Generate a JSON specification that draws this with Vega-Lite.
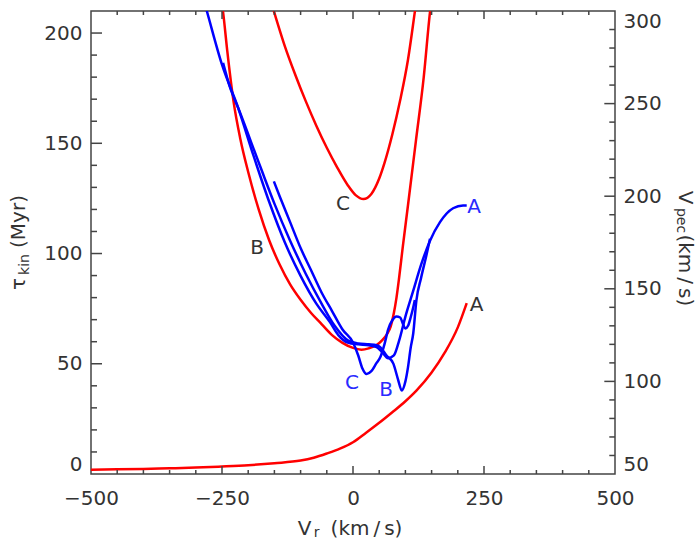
{
  "$schema": "https://vega.github.io/schema/vega-lite/v6.json",
  "width": 524,
  "height": 463,
  "autosize": "none",
  "padding": {"left": 91, "top": 11, "right": 85, "bottom": 65},
  "background": "white",
  "config": {
    "view": {"stroke": "#444", "strokeWidth": 1.5},
    "axis": {
      "domain": false, "ticks": false, "grid": false,
      "labelFont": "DejaVu Sans", "labelFontSize": 20, "labelColor": "#333",
      "titleFont": "DejaVu Sans", "titleFontSize": 20, "titleColor": "#333", "titleFontWeight": "normal"
    }
  },
  "datasets": {
    "red": [
      {"curve": "A", "v": -500, "tau": 1.9}, {"curve": "A", "v": -450, "tau": 2.1}, {"curve": "A", "v": -400, "tau": 2.3},
      {"curve": "A", "v": -350, "tau": 2.6}, {"curve": "A", "v": -300, "tau": 2.9}, {"curve": "A", "v": -250, "tau": 3.4},
      {"curve": "A", "v": -200, "tau": 4.0}, {"curve": "A", "v": -150, "tau": 4.9}, {"curve": "A", "v": -100, "tau": 6.1},
      {"curve": "A", "v": -75, "tau": 7.4}, {"curve": "A", "v": -50, "tau": 9.3}, {"curve": "A", "v": -25, "tau": 11.5},
      {"curve": "A", "v": 0, "tau": 14.4}, {"curve": "A", "v": 25, "tau": 18.7}, {"curve": "A", "v": 50, "tau": 23.2},
      {"curve": "A", "v": 75, "tau": 28}, {"curve": "A", "v": 100, "tau": 33}, {"curve": "A", "v": 121, "tau": 37.8},
      {"curve": "A", "v": 150, "tau": 46}, {"curve": "A", "v": 175, "tau": 55}, {"curve": "A", "v": 200, "tau": 66.5},
      {"curve": "A", "v": 217, "tau": 77.5},
      {"curve": "B", "v": -252, "tau": 216}, {"curve": "B", "v": -248, "tau": 209.6}, {"curve": "B", "v": -240, "tau": 192},
      {"curve": "B", "v": -228, "tau": 169}, {"curve": "B", "v": -215, "tau": 152}, {"curve": "B", "v": -200, "tau": 137},
      {"curve": "B", "v": -180, "tau": 120}, {"curve": "B", "v": -160, "tau": 106}, {"curve": "B", "v": -140, "tau": 95},
      {"curve": "B", "v": -120, "tau": 86}, {"curve": "B", "v": -100, "tau": 79}, {"curve": "B", "v": -80, "tau": 73},
      {"curve": "B", "v": -60, "tau": 68}, {"curve": "B", "v": -40, "tau": 63}, {"curve": "B", "v": -20, "tau": 59.5},
      {"curve": "B", "v": 0, "tau": 57.2}, {"curve": "B", "v": 16, "tau": 56.4}, {"curve": "B", "v": 30, "tau": 57},
      {"curve": "B", "v": 45, "tau": 58.5}, {"curve": "B", "v": 55, "tau": 60.5}, {"curve": "B", "v": 65, "tau": 63.5},
      {"curve": "B", "v": 72, "tau": 67}, {"curve": "B", "v": 78, "tau": 73}, {"curve": "B", "v": 83, "tau": 80},
      {"curve": "B", "v": 88, "tau": 89}, {"curve": "B", "v": 95, "tau": 103}, {"curve": "B", "v": 105, "tau": 122},
      {"curve": "B", "v": 120, "tau": 151}, {"curve": "B", "v": 135, "tau": 180}, {"curve": "B", "v": 147, "tau": 209.6},
      {"curve": "B", "v": 150, "tau": 215.5},
      {"curve": "C", "v": -155, "tau": 213}, {"curve": "C", "v": -150.6, "tau": 209.6}, {"curve": "C", "v": -130, "tau": 194},
      {"curve": "C", "v": -110, "tau": 181}, {"curve": "C", "v": -90, "tau": 169}, {"curve": "C", "v": -70, "tau": 158},
      {"curve": "C", "v": -50, "tau": 148}, {"curve": "C", "v": -30, "tau": 139}, {"curve": "C", "v": -10, "tau": 131},
      {"curve": "C", "v": 5, "tau": 126.5}, {"curve": "C", "v": 20, "tau": 124.7}, {"curve": "C", "v": 35, "tau": 127},
      {"curve": "C", "v": 50, "tau": 134}, {"curve": "C", "v": 60, "tau": 141}, {"curve": "C", "v": 75, "tau": 154},
      {"curve": "C", "v": 90, "tau": 169.5}, {"curve": "C", "v": 105, "tau": 188}, {"curve": "C", "v": 118, "tau": 209.6},
      {"curve": "C", "v": 120, "tau": 213}
    ],
    "blue": [
      {"curve": "A", "v": -282, "vpec": 303}, {"curve": "A", "v": -279, "vpec": 300}, {"curve": "A", "v": -250, "vpec": 271},
      {"curve": "A", "v": -219, "vpec": 247.6}, {"curve": "A", "v": -190, "vpec": 222}, {"curve": "A", "v": -160, "vpec": 197},
      {"curve": "A", "v": -130, "vpec": 175}, {"curve": "A", "v": -100, "vpec": 157}, {"curve": "A", "v": -70, "vpec": 142},
      {"curve": "A", "v": -44, "vpec": 132}, {"curve": "A", "v": -28, "vpec": 125}, {"curve": "A", "v": -10, "vpec": 121},
      {"curve": "A", "v": 10, "vpec": 120}, {"curve": "A", "v": 30, "vpec": 119.5}, {"curve": "A", "v": 45, "vpec": 118.5},
      {"curve": "A", "v": 55, "vpec": 116}, {"curve": "A", "v": 67, "vpec": 112.5}, {"curve": "A", "v": 78, "vpec": 114},
      {"curve": "A", "v": 88, "vpec": 122}, {"curve": "A", "v": 100, "vpec": 135}, {"curve": "A", "v": 115, "vpec": 149},
      {"curve": "A", "v": 130, "vpec": 163}, {"curve": "A", "v": 147, "vpec": 176}, {"curve": "A", "v": 166, "vpec": 186},
      {"curve": "A", "v": 191, "vpec": 193.5}, {"curve": "A", "v": 210, "vpec": 195}, {"curve": "A", "v": 217, "vpec": 195},
      {"curve": "B", "v": -248, "vpec": 272}, {"curve": "B", "v": -235, "vpec": 259}, {"curve": "B", "v": -219, "vpec": 247.6},
      {"curve": "B", "v": -177, "vpec": 216}, {"curve": "B", "v": -150, "vpec": 196}, {"curve": "B", "v": -120, "vpec": 176},
      {"curve": "B", "v": -90, "vpec": 158}, {"curve": "B", "v": -60, "vpec": 142}, {"curve": "B", "v": -35, "vpec": 130},
      {"curve": "B", "v": -9, "vpec": 122}, {"curve": "B", "v": 10, "vpec": 120.5}, {"curve": "B", "v": 30, "vpec": 120},
      {"curve": "B", "v": 45, "vpec": 119.5}, {"curve": "B", "v": 52, "vpec": 118.5}, {"curve": "B", "v": 64, "vpec": 114},
      {"curve": "B", "v": 77, "vpec": 109.6}, {"curve": "B", "v": 86, "vpec": 101}, {"curve": "B", "v": 93, "vpec": 95.1},
      {"curve": "B", "v": 100, "vpec": 100}, {"curve": "B", "v": 105, "vpec": 107.7}, {"curve": "B", "v": 110, "vpec": 118},
      {"curve": "B", "v": 115, "vpec": 126}, {"curve": "B", "v": 121, "vpec": 143.8}, {"curve": "B", "v": 130, "vpec": 156},
      {"curve": "B", "v": 140, "vpec": 168}, {"curve": "B", "v": 147, "vpec": 177},
      {"curve": "C", "v": -151, "vpec": 208}, {"curve": "C", "v": -140, "vpec": 200}, {"curve": "C", "v": -120, "vpec": 186},
      {"curve": "C", "v": -100, "vpec": 172}, {"curve": "C", "v": -80, "vpec": 160}, {"curve": "C", "v": -60, "vpec": 148},
      {"curve": "C", "v": -40, "vpec": 138}, {"curve": "C", "v": -20, "vpec": 128}, {"curve": "C", "v": 0, "vpec": 121},
      {"curve": "C", "v": 10, "vpec": 114}, {"curve": "C", "v": 18, "vpec": 107}, {"curve": "C", "v": 26, "vpec": 104},
      {"curve": "C", "v": 35, "vpec": 105.5}, {"curve": "C", "v": 45, "vpec": 110}, {"curve": "C", "v": 52, "vpec": 113},
      {"curve": "C", "v": 60, "vpec": 120}, {"curve": "C", "v": 67, "vpec": 128}, {"curve": "C", "v": 75, "vpec": 133},
      {"curve": "C", "v": 83, "vpec": 135}, {"curve": "C", "v": 90, "vpec": 134.5}, {"curve": "C", "v": 96, "vpec": 130.5},
      {"curve": "C", "v": 100, "vpec": 128.5}, {"curve": "C", "v": 105, "vpec": 130}, {"curve": "C", "v": 110, "vpec": 134.5},
      {"curve": "C", "v": 115, "vpec": 140}, {"curve": "C", "v": 118, "vpec": 144}
    ],
    "redlab": [
      {"label": "A", "v": 236, "tau": 76.8},
      {"label": "B", "v": -183, "tau": 102.6},
      {"label": "C", "v": -19, "tau": 122.5}
    ],
    "bluelab": [
      {"label": "A", "v": 231, "vpec": 194},
      {"label": "B", "v": 63, "vpec": 95.1},
      {"label": "C", "v": -2, "vpec": 98.9}
    ],
    "xmaj": [{"v": -250}, {"v": 0}, {"v": 250}],
    "xmin": [
      {"v": -450}, {"v": -400}, {"v": -350}, {"v": -300}, {"v": -200}, {"v": -150}, {"v": -100}, {"v": -50},
      {"v": 50}, {"v": 100}, {"v": 150}, {"v": 200}, {"v": 300}, {"v": 350}, {"v": 400}, {"v": 450}
    ],
    "taumaj": [{"tau": 50}, {"tau": 100}, {"tau": 150}, {"tau": 200}],
    "taumin": [
      {"tau": 10}, {"tau": 20}, {"tau": 30}, {"tau": 40}, {"tau": 60}, {"tau": 70}, {"tau": 80}, {"tau": 90},
      {"tau": 110}, {"tau": 120}, {"tau": 130}, {"tau": 140}, {"tau": 160}, {"tau": 170}, {"tau": 180}, {"tau": 190}
    ],
    "vpecmaj": [{"vpec": 100}, {"vpec": 150}, {"vpec": 200}, {"vpec": 250}],
    "vpecmin": [
      {"vpec": 60}, {"vpec": 70}, {"vpec": 80}, {"vpec": 90}, {"vpec": 110}, {"vpec": 120}, {"vpec": 130}, {"vpec": 140},
      {"vpec": 160}, {"vpec": 170}, {"vpec": 180}, {"vpec": 190}, {"vpec": 210}, {"vpec": 220}, {"vpec": 230}, {"vpec": 240},
      {"vpec": 260}, {"vpec": 270}, {"vpec": 280}, {"vpec": 290}
    ]
  },
  "layer": [
    {
      "data": {"name": "red"},
      "mark": {"type": "line", "color": "#ff0000", "strokeWidth": 2.5, "clip": true, "interpolate": "monotone"},
      "encoding": {
        "x": {"field": "v", "type": "quantitative", "scale": {"domain": [-500, 500], "nice": false, "zero": false},
          "axis": {"orient": "bottom", "values": [-500, -250, 0, 250, 500], "labelPadding": 24, "labelBaseline": "middle", "labelFlush": false,
            "title": "V", "titleX": 213, "titleY": 54, "titleBaseline": "middle", "titleAlign": "center"}},
        "y": {"field": "tau", "type": "quantitative", "scale": {"domain": [0, 210], "nice": false, "zero": false},
          "axis": {"orient": "left", "values": [0, 50, 100, 150, 200], "labelPadding": 9, "labelFlush": true,
            "title": "τ\u2003\u2002(Myr)", "titleX": -73, "titleY": 231, "titleBaseline": "middle", "titleAlign": "center", "titleAngle": -90}},
        "detail": {"field": "curve"}
      }
    },
    {
      "data": {"name": "blue"},
      "mark": {"type": "line", "color": "#0000ff", "strokeWidth": 2.5, "clip": true, "interpolate": "monotone"},
      "encoding": {
        "x": {"field": "v", "type": "quantitative", "scale": {"domain": [-500, 500], "nice": false, "zero": false},
          "axis": {"orient": "bottom", "labels": false, "title": "(km\u2009/\u2009s)", "titleX": 275, "titleY": 54, "titleBaseline": "middle", "titleAlign": "center"}},
        "y": {"field": "vpec", "type": "quantitative", "scale": {"domain": [50, 300], "nice": false, "zero": false},
          "axis": {"orient": "right", "values": [50, 100, 150, 200, 250, 300], "labelPadding": 8, "labelFlush": true,
            "title": "V\u2003\u2002(km\u2009/\u2009s)", "titleX": 69, "titleY": 237, "titleBaseline": "middle", "titleAlign": "center", "titleAngle": 90}},
        "detail": {"field": "curve"}
      }
    },
    {
      "data": {"name": "redlab"},
      "mark": {"type": "text", "font": "DejaVu Sans", "fontSize": 20, "color": "#333", "align": "center", "baseline": "middle"},
      "encoding": {
        "x": {"field": "v", "type": "quantitative", "scale": {"domain": [-500, 500], "nice": false, "zero": false},
          "axis": {"orient": "bottom", "labels": false, "title": "r", "titleFontSize": 14, "titleX": 225, "titleY": 58, "titleBaseline": "middle", "titleAlign": "center"}},
        "y": {"field": "tau", "type": "quantitative", "scale": {"domain": [0, 210], "nice": false, "zero": false},
          "axis": {"orient": "left", "labels": false,
            "title": "kin", "titleFontSize": 14, "titleX": -67, "titleY": 253, "titleBaseline": "middle", "titleAlign": "center", "titleAngle": -90}},
        "text": {"field": "label"}
      }
    },
    {
      "data": {"name": "bluelab"},
      "mark": {"type": "text", "font": "DejaVu Sans", "fontSize": 20, "color": "#2a2aff", "align": "center", "baseline": "middle"},
      "encoding": {
        "x": {"field": "v", "type": "quantitative", "scale": {"domain": [-500, 500], "nice": false, "zero": false}, "axis": null},
        "y": {"field": "vpec", "type": "quantitative", "scale": {"domain": [50, 300], "nice": false, "zero": false},
          "axis": {"orient": "right", "labels": false,
            "title": "pec", "titleFontSize": 14, "titleX": 65, "titleY": 209, "titleBaseline": "middle", "titleAlign": "center", "titleAngle": 90}},
        "text": {"field": "label"}
      }
    },
    {
      "data": {"name": "xmaj"},
      "mark": {"type": "rule", "color": "#444", "strokeWidth": 1.5},
      "encoding": {
        "x": {"field": "v", "type": "quantitative", "scale": {"domain": [-500, 500], "nice": false, "zero": false}, "axis": null},
        "y": {"datum": 0, "type": "quantitative", "scale": {"domain": [0, 210], "nice": false, "zero": false}, "axis": null},
        "y2": {"datum": 3.63}
      }
    },
    {
      "data": {"name": "xmin"},
      "mark": {"type": "rule", "color": "#444", "strokeWidth": 1.5},
      "encoding": {
        "x": {"field": "v", "type": "quantitative", "scale": {"domain": [-500, 500], "nice": false, "zero": false}, "axis": null},
        "y": {"datum": 0, "type": "quantitative", "scale": {"domain": [0, 210], "nice": false, "zero": false}, "axis": null},
        "y2": {"datum": 1.81}
      }
    },
    {
      "data": {"name": "xmaj"},
      "mark": {"type": "rule", "color": "#444", "strokeWidth": 1.5},
      "encoding": {
        "x": {"field": "v", "type": "quantitative", "scale": {"domain": [-500, 500], "nice": false, "zero": false}, "axis": null},
        "y": {"datum": 210, "type": "quantitative", "scale": {"domain": [0, 210], "nice": false, "zero": false}, "axis": null},
        "y2": {"datum": 206.37}
      }
    },
    {
      "data": {"name": "xmin"},
      "mark": {"type": "rule", "color": "#444", "strokeWidth": 1.5},
      "encoding": {
        "x": {"field": "v", "type": "quantitative", "scale": {"domain": [-500, 500], "nice": false, "zero": false}, "axis": null},
        "y": {"datum": 210, "type": "quantitative", "scale": {"domain": [0, 210], "nice": false, "zero": false}, "axis": null},
        "y2": {"datum": 208.19}
      }
    },
    {
      "data": {"name": "taumaj"},
      "mark": {"type": "rule", "color": "#444", "strokeWidth": 1.5},
      "encoding": {
        "y": {"field": "tau", "type": "quantitative", "scale": {"domain": [0, 210], "nice": false, "zero": false}, "axis": null},
        "x": {"datum": -500, "type": "quantitative", "scale": {"domain": [-500, 500], "nice": false, "zero": false}, "axis": null},
        "x2": {"datum": -479}
      }
    },
    {
      "data": {"name": "taumin"},
      "mark": {"type": "rule", "color": "#444", "strokeWidth": 1.5},
      "encoding": {
        "y": {"field": "tau", "type": "quantitative", "scale": {"domain": [0, 210], "nice": false, "zero": false}, "axis": null},
        "x": {"datum": -500, "type": "quantitative", "scale": {"domain": [-500, 500], "nice": false, "zero": false}, "axis": null},
        "x2": {"datum": -488.5}
      }
    },
    {
      "data": {"name": "vpecmaj"},
      "mark": {"type": "rule", "color": "#444", "strokeWidth": 1.5},
      "encoding": {
        "y": {"field": "vpec", "type": "quantitative", "scale": {"domain": [50, 300], "nice": false, "zero": false}, "axis": null},
        "x": {"datum": 500, "type": "quantitative", "scale": {"domain": [-500, 500], "nice": false, "zero": false}, "axis": null},
        "x2": {"datum": 479.6}
      }
    },
    {
      "data": {"name": "vpecmin"},
      "mark": {"type": "rule", "color": "#444", "strokeWidth": 1.5},
      "encoding": {
        "y": {"field": "vpec", "type": "quantitative", "scale": {"domain": [50, 300], "nice": false, "zero": false}, "axis": null},
        "x": {"datum": 500, "type": "quantitative", "scale": {"domain": [-500, 500], "nice": false, "zero": false}, "axis": null},
        "x2": {"datum": 489.1}
      }
    }
  ],
  "resolve": {
    "scale": {"x": "independent", "y": "independent"},
    "axis": {"x": "independent", "y": "independent"}
  }
}
